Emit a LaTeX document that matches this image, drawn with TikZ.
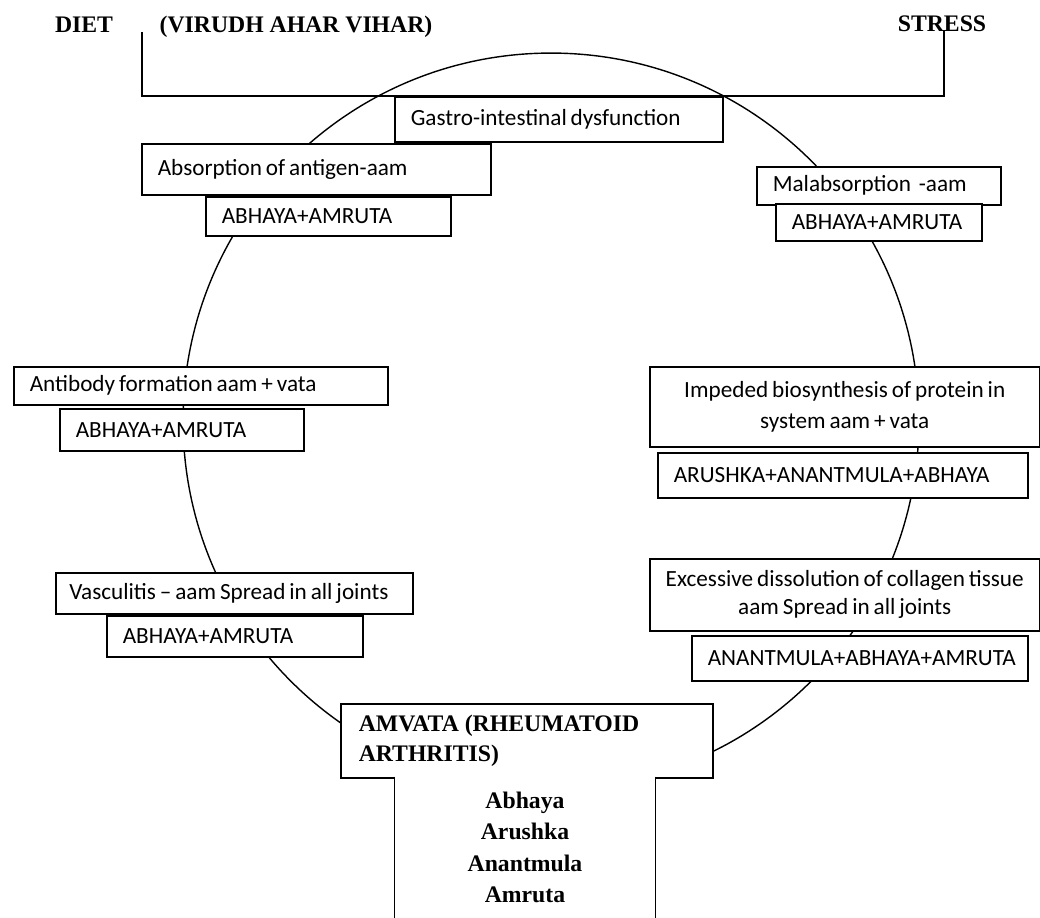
\documentclass[tikz,border=0pt]{standalone}
\usepackage{fontspec}
\setmainfont{Liberation Serif}
\newfontfamily\boxfont{Carlito}[WordSpace=0.75]
\usepackage{tikz}

\tikzset{
  box/.style={draw, rectangle, fill=white, line width=0.9pt, anchor=north west,
    inner xsep=0.32cm, inner ysep=0pt, align=flush left,
    font=\boxfont\fontsize{13.2}{17.6}\selectfont},
  midbox/.style={box, align=center, text width=, inner xsep=0pt},
  title/.style={font=\bfseries\fontsize{13.5}{16}\selectfont, inner sep=0pt, anchor=base}
}

\begin{document}
\begin{tikzpicture}[x=0.02cm, y=-0.02cm]
\useasboundingbox (0,0) rectangle (1040,918);

\node[draw, circle, line width=0.8pt, minimum size=14.72cm, inner sep=0pt](ring) at (551,421) {};

\node[title](diet) at (84,33) {DIET};
\node[title](virudh) at (296,33) {(VIRUDH AHAR VIHAR)};
\node[title](stress) at (942,32) {STRESS};
\coordinate (dietend) at (142,32);
\coordinate (stressend) at (944,30);

\node[box, text width=5.92cm, minimum height=0.9cm](gastro) at (394,96) {Gastro-intestinal dysfunction};
\draw[line width=0.9pt] (dietend) -- (dietend |- gastro.north) -- (stressend |- gastro.north) -- (stressend);

% left side
\node[box, text width=6.34cm, minimum height=1.02cm](absorb) at (141,143) {Absorption of antigen-aam};
\node[box, text width=4.26cm, minimum height=0.78cm](absorb_rx) at (205,196) {ABHAYA+AMRUTA};
\node[box, text width=6.84cm, minimum height=0.76cm](antibody) at (13,366) {Antibody formation aam + vata};
\node[box, text width=4.24cm, minimum height=0.84cm](antibody_rx) at (59,408) {ABHAYA+AMRUTA};
\node[box, text width=6.6cm, inner xsep=0.27cm, minimum height=0.82cm](vascul) at (55,572) {Vasculitis – aam Spread in all joints};
\node[box, text width=4.48cm, minimum height=0.82cm](vascul_rx) at (106,615) {ABHAYA+AMRUTA};

% right side
\node[box, text width=4.24cm, minimum height=0.76cm](malab) at (756,166) {Malabsorption~ -aam};
\node[box, text width=3.48cm, minimum height=0.74cm](malab_rx) at (775,203) {ABHAYA+AMRUTA};
\node[midbox, minimum width=7.8cm, minimum height=1.6cm](impeded) at (649,366) {Impeded biosynthesis of protein in\\system aam + vata};
\node[box, text width=6.76cm, minimum height=0.9cm](impeded_rx) at (657,452) {ARUSHKA+ANANTMULA+ABHAYA};
\node[midbox, minimum width=7.8cm, minimum height=1.44cm, font=\boxfont\fontsize{13.2}{16}\selectfont](excess) at (649,558) {Excessive dissolution of collagen tissue\\aam Spread in all joints};
\node[box, text width=6.08cm, minimum height=0.9cm](excess_rx) at (691,635) {ANANTMULA+ABHAYA+AMRUTA};

% bottom
\node[box, text width=6.72cm, minimum height=1.48cm, inner xsep=0.36cm, font=\bfseries\fontsize{13.5}{17}\selectfont](amvata) at (340,703) {AMVATA (RHEUMATOID\\ARTHRITIS)};
\node[fill=white, minimum width=5.2cm, minimum height=2.82cm, inner sep=0pt, align=center, font=\bfseries\fontsize{13.5}{17.9}\selectfont](herbs) at (525,847.5) {Abhaya\\Arushka\\Anantmula\\Amruta};
\draw[line width=0.9pt] (herbs.north west) -- (herbs.south west);
\draw[line width=0.9pt] (herbs.north east) -- (herbs.south east);
\end{tikzpicture}
\end{document}
